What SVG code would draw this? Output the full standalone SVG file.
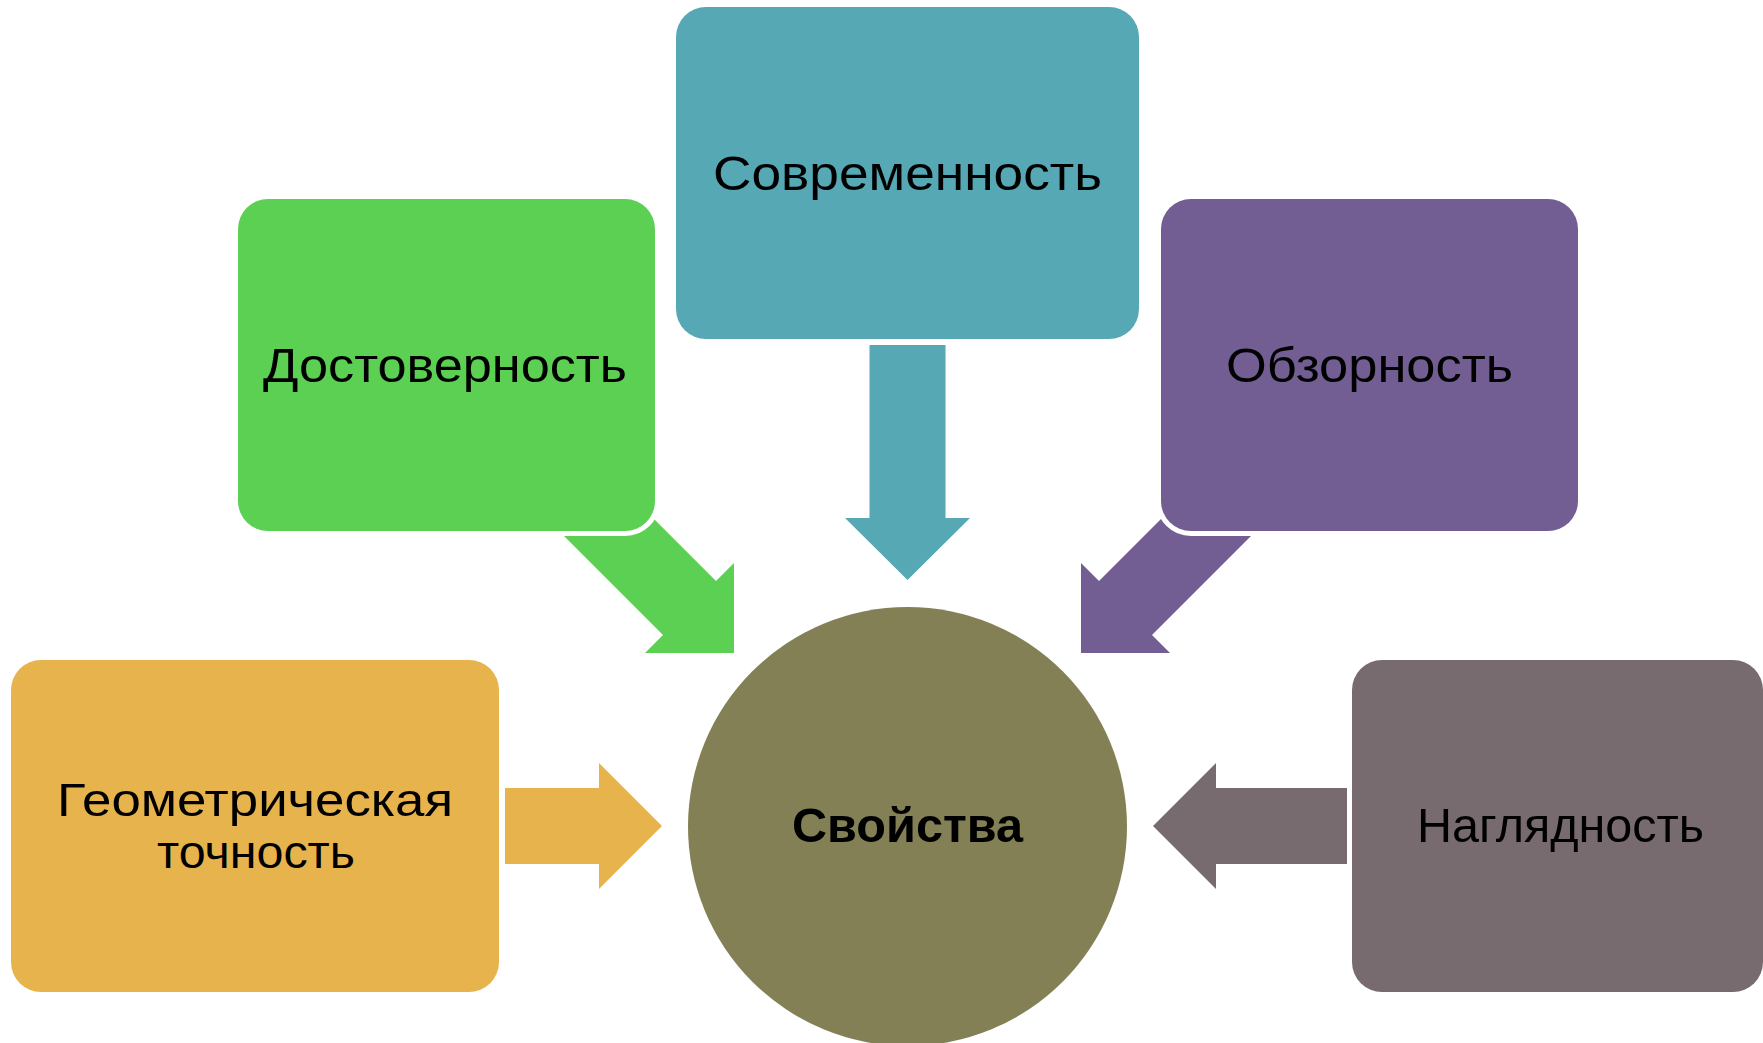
<svg xmlns="http://www.w3.org/2000/svg" width="1763" height="1043" viewBox="0 0 1763 1043">
<style>
.box{stroke:#fff;stroke-width:10;paint-order:stroke}
.lbl{font-family:"Liberation Sans","Noto Sans",sans-serif;font-size:48px;fill:#000;text-anchor:middle}
.sm{font-size:46px}
.bold{font-weight:bold}
</style>
<rect width="1763" height="1043" fill="#fff"/>
<g id="connectors">
<polygon fill="#55A8B4" points="869.5,345 945.5,345 945.5,518 970,518 907.5,580 845,518 869.5,518"/>
<polygon fill="#5CD053" points="594,459 716,581 734,563 734,653 645,653 663,635 541,513"/>
<polygon fill="#735E94" points="1221,459 1099,581 1081,563 1081,653 1170,653 1152,635 1274,513"/>
<polygon fill="#E7B34D" points="505,788 599,788 599,763 662,826 599,889 599,864 505,864"/>
<polygon fill="#776B70" points="1347,788 1216,788 1216,763 1153,826 1216,889 1216,864 1347,864"/>
</g>
<g id="node-center">
<circle cx="907.5" cy="826.5" r="219.5" fill="#848056"/>
<text class="lbl bold" x="907.5" y="842" textLength="231" lengthAdjust="spacingAndGlyphs">Свойства</text>
</g>
<g id="node-top">
<rect class="box" x="676" y="7" width="463" height="332" rx="30" fill="#55A8B4"/>
<text class="lbl" x="907.5" y="190" textLength="389" lengthAdjust="spacingAndGlyphs">Современность</text>
</g>
<g id="node-left-top">
<rect class="box" x="238" y="199" width="417" height="332" rx="30" fill="#5CD053"/>
<text class="lbl" x="445" y="382" textLength="364" lengthAdjust="spacingAndGlyphs">Достоверность</text>
</g>
<g id="node-right-top">
<rect class="box" x="1161" y="199" width="417" height="332" rx="30" fill="#735E94"/>
<text class="lbl" x="1369.5" y="382" textLength="287" lengthAdjust="spacingAndGlyphs">Обзорность</text>
</g>
<g id="node-left">
<rect class="box" x="11" y="660" width="488" height="332" rx="30" fill="#E7B34D"/>
<text class="lbl sm" x="255" y="816" textLength="396" lengthAdjust="spacingAndGlyphs">Геометрическая</text>
<text class="lbl sm" x="256" y="868" textLength="198" lengthAdjust="spacingAndGlyphs">точность</text>
</g>
<g id="node-right">
<rect class="box" x="1352" y="660" width="411" height="332" rx="30" fill="#776B70"/>
<text class="lbl" x="1560.5" y="842" textLength="287" lengthAdjust="spacingAndGlyphs">Наглядность</text>
</g>
</svg>
